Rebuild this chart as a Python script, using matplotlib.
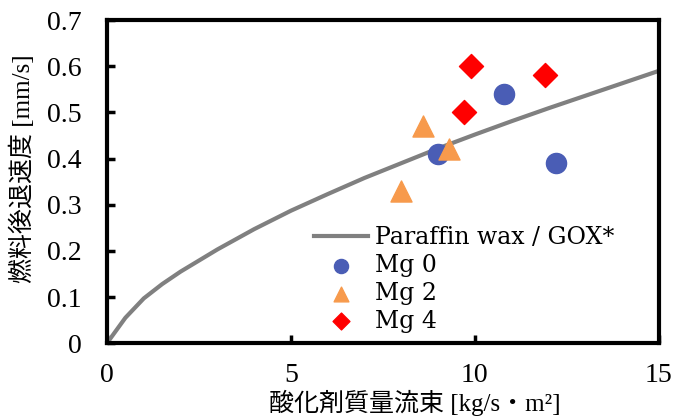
import matplotlib
matplotlib.use('Agg')
from matplotlib import pyplot as plt

plt.rcParams['font.family'] = ['Liberation Serif', 'Noto Sans CJK JP']
plt.rcParams['font.size'] = 20

# Paraffin wax / GOX* regression curve
curve_x = [0, 0.5, 1, 1.5, 2, 3, 4, 5, 6, 7, 8, 9, 10, 11, 12, 13, 14, 15]
curve_y = [0, 0.055, 0.097, 0.128, 0.155, 0.203, 0.247, 0.287, 0.323, 0.358, 0.390,
           0.422, 0.452, 0.481, 0.509, 0.536, 0.563, 0.590]

mg0_x = [9.0, 10.8, 12.2]
mg0_y = [0.41, 0.54, 0.39]
mg2_x = [8.0, 8.6, 9.3]
mg2_y = [0.33, 0.47, 0.42]
mg4_x = [9.7, 9.9, 11.9]
mg4_y = [0.50, 0.60, 0.58]

fig = plt.figure(figsize=(6.75, 4.19), dpi=100)
ax = fig.add_axes([0.1585, 0.181, 0.8175, 0.771])

ax.plot(curve_x, curve_y, color='#808080', lw=3, label='Paraffin wax / GOX*', zorder=2)
ax.scatter(mg0_x, mg0_y, s=210, marker='o', color='#4A5DB5', label='Mg 0', zorder=3)
ax.scatter(mg2_x, mg2_y, s=230, marker='^', color='#F79A4C', label='Mg 2', zorder=3)
ax.scatter(mg4_x, mg4_y, s=150, marker='D', color='#FF0000', label='Mg 4', zorder=3)

ax.set_xlim(0, 15)
ax.set_ylim(0, 0.7)
ax.set_xticks([0, 5, 10, 15])
ax.set_yticks([0, 0.1, 0.2, 0.3, 0.4, 0.5, 0.6, 0.7])
ax.set_yticklabels(['0', '0.1', '0.2', '0.3', '0.4', '0.5', '0.6', '0.7'])
ax.tick_params(direction='in', length=6, width=2.5)
ax.tick_params(axis='x', pad=14)
ax.tick_params(axis='y', pad=18)
for sp in ax.spines.values():
    sp.set_linewidth(3)

ax.set_xlabel('酸化剤質量流束 [kg/s・m²]', fontsize=18)
ax.xaxis.set_label_coords(0.558, -0.145)
ax.set_ylabel('燃料後退速度 [mm/s]', fontsize=18)
ax.yaxis.set_label_coords(-0.13, 0.54)

ax.legend(loc='lower left', bbox_to_anchor=(0.355, 0.0), frameon=False,
          prop={'family': ['DejaVu Serif'], 'size': 17},
          handlelength=2.3, handletextpad=0.3, labelspacing=0.2,
          borderaxespad=0.05, markerscale=0.7)

fig.savefig('out.png', dpi=100)
